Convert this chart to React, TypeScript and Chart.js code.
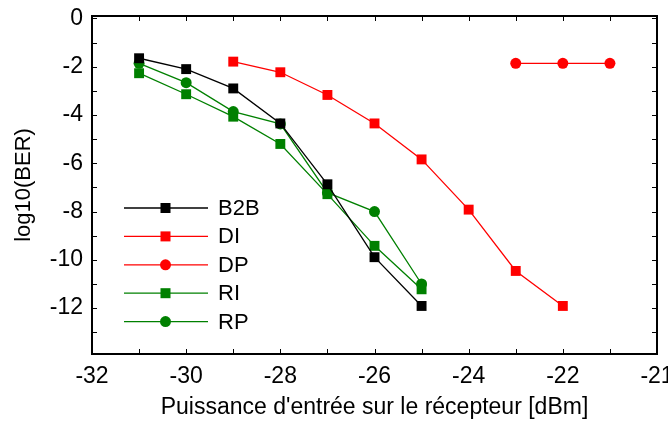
import React, { useEffect, useRef } from "react";
import { Chart, registerables } from "chart.js";

Chart.register(...registerables);

const xB2B = [-31, -30, -29, -28, -27, -26, -25];
const yB2B = [-1.65, -2.1, -2.9, -4.35, -6.87, -9.89, -11.91];

const xDI = [-29, -28, -27, -26, -25, -24, -23, -22];
const yDI = [-1.79, -2.23, -3.17, -4.35, -5.84, -7.92, -10.46, -11.91];

const xDP = [-23, -22, -21];
const yDP = [-1.86, -1.86, -1.86];

const xRI = [-31, -30, -29, -28, -27, -26, -25];
const yRI = [-2.27, -3.14, -4.07, -5.2, -7.28, -9.42, -11.22];

const xRP = [-31, -30, -29, -28, -27, -26, -25];
const yRP = [-1.86, -2.66, -3.86, -4.37, -7.22, -8.0, -11.0];

const xTickValues = [-32, -30, -28, -26, -24, -22, -20];
const xTickLabels = ["-32", "-30", "-28", "-26", "-24", "-22", "-21"];
const yTickValues = [-12, -10, -8, -6, -4, -2, 0];
const yTickLabels = ["-12", "-10", "-8", "-6", "-4", "-2", "0"];

const seriesNames = ["B2B", "DI", "DP", "RI", "RP"];

const FONT = "'Liberation Sans', Arial, sans-serif";
const FS = 23;

const zip = (xs: number[], ys: number[]) => xs.map((x, i) => ({ x, y: ys[i] }));

const noPad = (s: any) => {
  s.paddingTop = 0;
  s.paddingBottom = 0;
  s.paddingLeft = 0;
  s.paddingRight = 0;
};

const frameAndLegend = {
  id: "frameAndLegend",
  afterDraw(chart: any) {
    const { ctx, chartArea } = chart;
    const { left, right, top, bottom } = chartArea;
    const xs = chart.scales.x;
    const ys = chart.scales.y;
    ctx.save();
    ctx.strokeStyle = "#000";
    ctx.lineWidth = 1;
    const tl = 5;
    ctx.beginPath();
    for (let v = Math.ceil(xs.min); v <= xs.max; v++) {
      const px = Math.round(xs.getPixelForValue(v)) + 0.5;
      ctx.moveTo(px, bottom);
      ctx.lineTo(px, bottom - tl);
      ctx.moveTo(px, top);
      ctx.lineTo(px, top + tl);
    }
    for (let v = Math.ceil(ys.min); v <= ys.max; v++) {
      const py = Math.round(ys.getPixelForValue(v)) + 0.5;
      ctx.moveTo(left, py);
      ctx.lineTo(left + tl, py);
      ctx.moveTo(right, py);
      ctx.lineTo(right - tl, py);
    }
    ctx.stroke();
    ctx.lineWidth = 2;
    ctx.strokeRect(left, top, right - left, bottom - top);

    // legend
    const lx0 = 124;
    const lx1 = 208;
    const mx = 165.5;
    const tx = 218;
    const y0 = 208;
    const dy = 28.4;
    chart.data.datasets.forEach((ds: any, i: number) => {
      const y = y0 + i * dy;
      ctx.strokeStyle = ds.borderColor;
      ctx.lineWidth = ds.borderWidth;
      ctx.beginPath();
      ctx.moveTo(lx0, y);
      ctx.lineTo(lx1, y);
      ctx.stroke();
      ctx.fillStyle = ds.backgroundColor;
      if (ds.pointStyle === "rect") {
        ctx.fillRect(mx - 5, y - 5, 10, 10);
      } else {
        ctx.beginPath();
        ctx.arc(mx, y, 5.5, 0, Math.PI * 2);
        ctx.fill();
      }
      ctx.fillStyle = "#000";
      ctx.font = `${FS - 1}px ${FONT}`;
      ctx.textBaseline = "middle";
      ctx.textAlign = "left";
      ctx.fillText(ds.label, tx, y + 1);
    });
    ctx.restore();
  },
};

export default function App() {
  const ref = useRef<HTMLCanvasElement>(null);
  useEffect(() => {
    document.body.style.margin = "0";
    const mk = (label: string, xs: number[], ys: number[], color: string, style: string) => ({
      label,
      data: zip(xs, ys),
      borderColor: color,
      backgroundColor: color,
      borderWidth: 1.3,
      pointStyle: style,
      pointRadius: style === "rect" ? 7 : 5.5,
      pointBorderWidth: 0,
      pointHoverRadius: 0,
      tension: 0,
      fill: false,
      showLine: true,
    });
    const chart = new Chart(ref.current as HTMLCanvasElement, {
      type: "scatter",
      data: {
        datasets: [
          mk(seriesNames[0], xB2B, yB2B, "#000000", "rect"),
          mk(seriesNames[1], xDI, yDI, "#ff0000", "rect"),
          mk(seriesNames[2], xDP, yDP, "#ff0000", "circle"),
          mk(seriesNames[3], xRI, yRI, "#008000", "rect"),
          mk(seriesNames[4], xRP, yRP, "#008000", "circle"),
        ] as any,
      },
      options: {
        responsive: false,
        animation: false,
        layout: { padding: { left: 0, right: 11, top: 16, bottom: 0 } },
        plugins: { legend: { display: false }, tooltip: { enabled: false } },
        scales: {
          x: {
            type: "linear",
            min: -32,
            max: -20,
            grid: { display: false, drawTicks: false },
            border: { display: false },
            afterBuildTicks: (s: any) => {
              s.ticks = xTickValues.map((v) => ({ value: v }));
            },
            afterFit: (s: any) => {
              s.height = 67;
              noPad(s);
            },
            ticks: {
              autoSkip: false,
              maxRotation: 0,
              padding: 9,
              color: "#000",
              font: { family: FONT, size: FS },
              callback: (v: any) => {
                const i = xTickValues.indexOf(Number(v));
                return i >= 0 ? xTickLabels[i] : "";
              },
            },
            title: {
              display: true,
              text: "Puissance d'entrée sur le récepteur [dBm]",
              color: "#000",
              font: { family: FONT, size: FS },
              padding: { top: 0, bottom: 0 },
            },
          },
          y: {
            type: "linear",
            min: -13.9,
            max: 0.1,
            grid: { display: false, drawTicks: false },
            border: { display: false },
            afterBuildTicks: (s: any) => {
              s.ticks = yTickValues.map((v) => ({ value: v }));
            },
            afterFit: (s: any) => {
              s.width = 92;
              noPad(s);
            },
            ticks: {
              autoSkip: false,
              padding: 9,
              color: "#000",
              font: { family: FONT, size: FS },
              callback: (v: any) => {
                const i = yTickValues.indexOf(Number(v));
                return i >= 0 ? yTickLabels[i] : "";
              },
            },
            title: {
              display: true,
              text: "log10(BER)",
              color: "#000",
              font: { family: FONT, size: FS - 1 },
              padding: { top: 11, bottom: 0 },
            },
          },
        },
      },
      plugins: [frameAndLegend],
    });
    return () => chart.destroy();
  }, []);
  return (
    <div style={{ width: 668, height: 421 }}>
      <canvas ref={ref} width={668} height={421} />
    </div>
  );
}
